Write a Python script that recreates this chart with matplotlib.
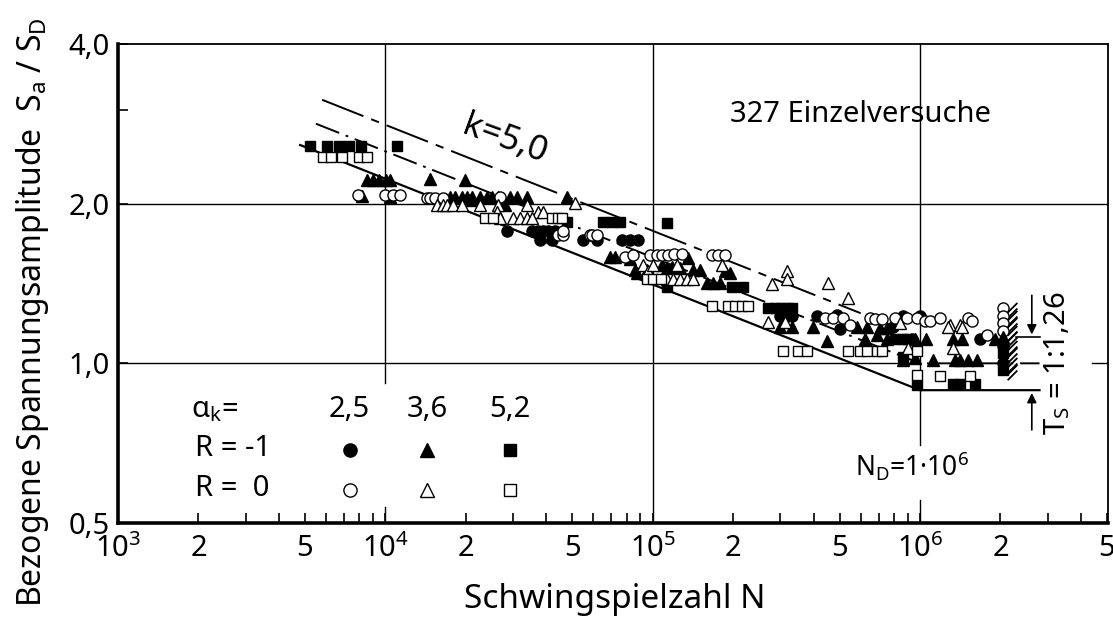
import matplotlib as mpl
mpl.use('Agg')
from matplotlib import pyplot as plt
from matplotlib.path import Path
from matplotlib.ticker import FixedLocator, NullFormatter

plt.rcParams['font.family'] = ['Noto Sans', 'DejaVu Sans']
plt.rcParams['mathtext.fontset'] = 'custom'
plt.rcParams['mathtext.rm'] = 'Noto Sans'
plt.rcParams['mathtext.default'] = 'regular'
plt.rcParams['lines.scale_dashes'] = False

# --- data (N = cycles, S = Sa/SD) ---
# R = -1, alpha_k = 2.5 (filled circles)
fc_N = [2.85e4, 3.54e4, 3.73e4, 3.89e4, 4.06e4, 4.31e4, 3.79e4, 4.21e4, 5.49e4, 6.19e4,
        7.69e4, 8.23e4, 8.82e4, 3.0e5, 3.18e5, 3.33e5, 4.12e5, 4.9e5, 5.02e5, 7.93e5,
        8.65e5, 1.0e6, 9.3e5, 1.68e6]
fc_S = [1.78, 1.78, 1.78, 1.78, 1.78, 1.78, 1.71, 1.71, 1.71, 1.71,
        1.71, 1.71, 1.71, 1.23, 1.23, 1.23, 1.23, 1.235, 1.16, 1.17,
        1.23, 1.23, 1.11, 1.11]
# R = -1, alpha_k = 3.6 (filled triangles)
ft_N = [8.55e3, 9.0e3, 9.47e3, 1.01e4, 1.04e4, 1.47e4, 1.99e4, 8.18e3, 1.04e4,
        1.75e4, 1.82e4, 1.94e4, 2.02e4, 2.11e4, 2.26e4, 2.40e4, 2.51e4, 2.64e4, 2.93e4,
        3.11e4, 3.39e4, 4.79e4, 2.08e4, 2.80e4, 6.93e4, 7.23e4, 8.75e4,
        8.2e4, 8.6e4, 9.5e4, 1.08e5, 1.13e5, 1.18e5, 1.27e5, 1.35e5, 1.41e5, 1.50e5,
        1.60e5, 1.68e5, 1.79e5, 1.87e5, 1.95e5,
        3.0e5, 3.33e5, 3.98e5, 4.49e5, 5.82e5, 6.34e5, 6.91e5, 7.10e5, 7.53e5, 7.53e5,
        6.24e5, 9.59e5, 9.59e5, 1.33e6, 1.44e6, 1.91e6, 1.05e6,
        8.65e5, 1.12e6, 1.35e6, 1.41e6, 1.51e6, 1.64e6]
ft_S = [2.22, 2.22, 2.22, 2.22, 2.22, 2.23, 2.22, 2.07, 2.06,
        2.06, 2.06, 2.06, 2.06, 2.06, 2.06, 2.06, 2.06, 2.06, 2.06,
        2.06, 2.06, 2.06, 2.03, 1.99, 1.59, 1.59, 1.48,
        1.57, 1.50, 1.50, 1.53, 1.51, 1.52, 1.51, 1.58, 1.50, 1.50,
        1.42, 1.42, 1.42, 1.49, 1.48,
        1.17, 1.17, 1.17, 1.10, 1.17, 1.17, 1.13, 1.165, 1.165, 1.11,
        1.11, 1.11, 1.025, 1.11, 1.11, 1.11, 1.11,
        1.015, 1.015, 1.015, 1.015, 1.015, 1.015]
# R = -1, alpha_k = 5.2 (filled squares)
fs_N = [5.23e3, 6.05e3, 6.71e3, 7.31e3, 8.11e3, 1.11e4, 4.8e4, 6.52e4, 7.05e4, 7.55e4,
        1.13e5, 1.13e5, 1.98e5, 2.18e5, 2.70e5, 2.87e5, 3.0e5, 3.18e5, 3.33e5,
        8.07e5, 8.65e5, 8.95e5, 8.65e5, 9.75e5, 1.33e6, 1.41e6, 1.61e6]
fs_S = [2.57, 2.57, 2.57, 2.57, 2.57, 2.57, 1.85, 1.85, 1.85, 1.85,
        1.84, 1.39, 1.39, 1.39, 1.27, 1.27, 1.27, 1.27, 1.27,
        1.11, 1.11, 1.11, 1.03, 0.91, 0.915, 0.915, 0.915]
# R = 0, alpha_k = 2.5 (open circles)
oc_N = [7.9e3, 9.97e3, 1.07e4, 1.135e4, 1.43e4, 1.47e4, 1.53e4, 1.64e4, 2.69e4,
        4.43e4, 4.62e4, 4.62e4, 5.84e4, 5.93e4, 6.19e4, 7.89e4,
        8.45e4, 9.8e4, 1.04e5, 1.08e5, 1.14e5, 1.20e5, 1.29e5, 1.67e5, 1.76e5, 1.87e5,
        4.42e5, 4.73e5, 5.15e5, 5.47e5, 6.5e5, 6.79e5, 7.22e5, 8.07e5, 8.95e5, 9.75e5,
        1.04e6, 1.09e6, 1.19e6, 1.51e6, 1.57e6, 1.78e6]
oc_S = [2.08, 2.08, 2.08, 2.08, 2.05, 2.05, 2.05, 2.05, 2.06,
        1.745, 1.745, 1.78, 1.745, 1.745, 1.745, 1.59,
        1.60, 1.60, 1.60, 1.60, 1.60, 1.61, 1.61, 1.60, 1.60, 1.60,
        1.22, 1.22, 1.22, 1.18, 1.22, 1.21, 1.21, 1.22, 1.22, 1.22,
        1.20, 1.20, 1.22, 1.22, 1.20, 1.13]
# R = 0, alpha_k = 3.6 (open triangles)
ot_N = [1.56e4, 1.64e4, 1.70e4, 1.79e4, 1.94e4, 2.26e4, 2.64e4, 3.39e4, 5.13e4,
        2.62e4, 3.73e4, 3.89e4, 2.69e4, 3.01e4, 3.19e4, 3.39e4, 3.54e4,
        1.13e5, 1.19e5, 1.27e5, 1.34e5, 1.41e5, 9.2e4, 9.6e4, 1.0e5, 1.23e5, 1.82e5,
        2.80e5, 3.18e5, 3.18e5, 4.53e5, 5.38e5, 2.70e5, 3.13e5, 9.03e5, 1.33e6,
        1.30e6, 1.41e6, 1.27e6, 1.44e6, 8.4e5]
ot_S = [1.99, 1.99, 1.99, 1.99, 1.99, 1.99, 1.99, 1.99, 2.01,
        1.93, 1.93, 1.93, 1.88, 1.88, 1.88, 1.88, 1.88,
        1.44, 1.44, 1.44, 1.44, 1.44, 1.53, 1.49, 1.53, 1.53, 1.53,
        1.41, 1.49, 1.44, 1.42, 1.33, 1.195, 1.195, 1.07, 1.07,
        1.18, 1.18, 1.17, 1.17, 1.19]
# R = 0, alpha_k = 5.2 (open squares)
os_N = [5.85e3, 6.26e3, 6.89e3, 7.97e3, 8.55e3, 2.36e4, 2.53e4, 4.21e4, 4.43e4, 4.58e4,
        9.5e4, 1.0e5, 1.07e5, 1.67e5, 1.92e5, 2.03e5, 2.16e5, 2.27e5,
        3.08e5, 3.50e5, 3.78e5, 5.38e5, 5.97e5, 6.34e5, 6.91e5, 7.22e5, 9.75e5,
        9.75e5, 1.19e6, 1.54e6]
os_S = [2.45, 2.45, 2.45, 2.45, 2.45, 1.88, 1.88, 1.88, 1.88, 1.88,
        1.44, 1.44, 1.44, 1.28, 1.28, 1.28, 1.28, 1.28,
        1.055, 1.055, 1.055, 1.055, 1.055, 1.055, 1.055, 1.055, 1.055,
        0.95, 0.946, 0.946]
# run-outs at N = 2e6 (no failure)
run_oc_S = [1.27, 1.23, 1.19, 1.15]
run_fc_S = [1.08, 1.0]
run_fs_S = [1.045, 0.97]
run_ft_S = [1.12]
run_N = 2.05e6

# scatter band lines (k = 5,0 ; N_D = 1e6), end points
upper_N = [5.8e3, 6.0e5]
upper_S = [3.14, 1.243]
mean_N = [5.5e3, 1.0e6, 2.8e6]
mean_S = [2.83, 1.0, 1.0]
lower_N = [4.8e3, 1.0e6, 2.8e6]
lower_S = [2.58, 0.89, 0.89]

x_major = [1e3, 2e3, 5e3, 1e4, 2e4, 5e4, 1e5, 2e5, 5e5, 1e6, 2e6, 5e6]
x_labels = ['$10^3$', '2', '5', '$10^4$', '2', '5', '$10^5$', '2', '5', '$10^6$', '2', '5']
y_major = [0.5, 1.0, 2.0, 4.0]
y_labels = ['0,5', '1,0', '2,0', '4,0']

fig = plt.figure(figsize=(11.13, 6.30), dpi=100)
ax = fig.add_axes([118 / 1113, 107 / 630, 990 / 1113, 479 / 630])
ax.set_xscale('log')
ax.set_yscale('log')
ax.set_xlim(1e3, 5.05e6)
ax.set_ylim(0.5, 4.0)

# grid lines (drawn by hand because of the gaps)
g = dict(color='black', lw=1.0, zorder=1)
ax.plot([1e4, 1e4], [0.5, 0.535], **g)
ax.plot([1e4, 1e4], [0.92, 4.0], **g)
ax.plot([1e5, 1e5], [0.5, 4.0], **g)
ax.plot([1e6, 1e6], [0.5, 0.553], **g)
ax.plot([1e6, 1e6], [0.70, 4.0], **g)
ax.plot([1e3, 5.05e6], [2.0, 2.0], **g)
ax.plot([1e3, 1e6], [1.0, 1.0], **g)
ax.plot([4.4e6, 5.05e6], [1.0, 1.0], **g)

# band lines
l1, = ax.plot(upper_N, upper_S, color='black', lw=1.4, zorder=2)
l1.set_dashes([32, 6, 6, 6])
l2, = ax.plot(mean_N, mean_S, color='black', lw=1.4, zorder=2)
l2.set_dashes([18, 5, 2, 5])
ax.plot(lower_N, lower_S, color='black', lw=1.6, zorder=2)
ax.plot([2.28e6, 2.8e6], [1.12, 1.12], color='black', lw=1.2, zorder=2)

ms = dict(linestyle='none', color='black', zorder=3)
ax.plot(fc_N, fc_S, marker='o', ms=8, **ms)
ax.plot(ft_N, ft_S, marker='^', ms=9, **ms)
ax.plot(fs_N, fs_S, marker='s', ms=7, **ms)
ax.plot(oc_N, oc_S, marker='o', ms=8, mfc='white', mew=1.0, **ms)
ax.plot(ot_N, ot_S, marker='^', ms=9, mfc='white', mew=1.0, **ms)
ax.plot(os_N, os_S, marker='s', ms=7, mfc='white', mew=1.0, **ms)

# run-outs with hatch strokes
hatch = Path([(0.3, -0.3), (1.0, 0.4), (0.3, -0.7), (1.0, 0.0)],
             [Path.MOVETO, Path.LINETO, Path.MOVETO, Path.LINETO])
run_all = run_oc_S + run_fc_S + run_fs_S + run_ft_S
ax.plot([run_N] * len(run_all), run_all, marker=hatch, ms=20, mew=1.3, **ms)
ax.plot([run_N] * len(run_oc_S), run_oc_S, marker='o', ms=8, mfc='white', mew=1.0, **ms)
ax.plot([run_N] * len(run_fc_S), run_fc_S, marker='o', ms=8, **ms)
ax.plot([run_N] * len(run_fs_S), run_fs_S, marker='s', ms=7, **ms)
ax.plot([run_N] * len(run_ft_S), run_ft_S, marker='^', ms=9, **ms)

# T_S arrows
ap = dict(arrowstyle='-|>', color='black', lw=1.2, mutation_scale=14)
ax.annotate('', xy=(2.62e6, 1.12), xytext=(2.62e6, 1.36), arrowprops=ap)
ax.annotate('', xy=(2.62e6, 0.89), xytext=(2.62e6, 0.74), arrowprops=ap)
ax.text(0.949, 0.334, '$T_S$ = 1:1,26', rotation=90, ha='center', va='center',
        fontsize=21, transform=ax.transAxes)

# texts
ax.text(0.7495, 0.852, '327 Einzelversuche', ha='center', va='center',
        fontsize=21, transform=ax.transAxes)
ax.text(0.391, 0.80, 'k=5,0', ha='center', va='center', rotation=-20,
        fontsize=25, transform=ax.transAxes)
ax.text(0.802, 0.119, '$N_D$=1·$10^6$', ha='center', va='center',
        fontsize=19, transform=ax.transAxes)

# legend table
fs_leg = 21
ax.text(0.074, 0.236, r'$\alpha_k$=', ha='left', va='center', fontsize=fs_leg,
        transform=ax.transAxes)
ax.text(0.078, 0.155, 'R = -1', ha='left', va='center', fontsize=fs_leg,
        transform=ax.transAxes)
ax.text(0.078, 0.071, 'R =  0', ha='left', va='center', fontsize=fs_leg,
        transform=ax.transAxes)
for xc, lab, mk, msz in [(0.234, '2,5', 'o', 9.5), (0.312, '3,6', '^', 10.5), (0.396, '5,2', 's', 9)]:
    ax.text(xc, 0.236, lab, ha='center', va='center', fontsize=fs_leg, transform=ax.transAxes)
    ax.plot([xc], [0.152], marker=mk, ms=msz, transform=ax.transAxes, **ms)
    ax.plot([xc], [0.069], marker=mk, ms=msz, mfc='white', mew=1.0,
            transform=ax.transAxes, **ms)

# axes, ticks
ax.xaxis.set_major_locator(FixedLocator(x_major))
ax.xaxis.set_minor_locator(FixedLocator([3e3, 4e3, 6e3, 7e3, 8e3, 9e3, 3e4, 4e4, 6e4, 7e4, 8e4, 9e4,
                                         3e5, 4e5, 6e5, 7e5, 8e5, 9e5, 3e6, 4e6]))
ax.set_xticklabels(x_labels)
ax.xaxis.set_minor_formatter(NullFormatter())
ax.yaxis.set_major_locator(FixedLocator(y_major))
ax.yaxis.set_minor_locator(FixedLocator([3.0]))
ax.set_yticklabels(y_labels)
ax.yaxis.set_minor_formatter(NullFormatter())
ax.tick_params(which='both', direction='in', length=7, width=1.2, labelsize=21)
ax.tick_params(axis='x', pad=8)
ax.tick_params(axis='y', pad=6)
for s in ['left', 'bottom']:
    ax.spines[s].set_linewidth(2.6)
for s in ['top', 'right']:
    ax.spines[s].set_linewidth(1.3)

fig.text(0.552, 0.048, 'Schwingspielzahl N', ha='center', va='center', fontsize=24)
fig.text(0.029, 0.505, 'Bezogene Spannungsamplitude  $S_a$ / $S_D$', rotation=90,
         ha='center', va='center', fontsize=23)

fig.savefig('out.png', dpi=100)
